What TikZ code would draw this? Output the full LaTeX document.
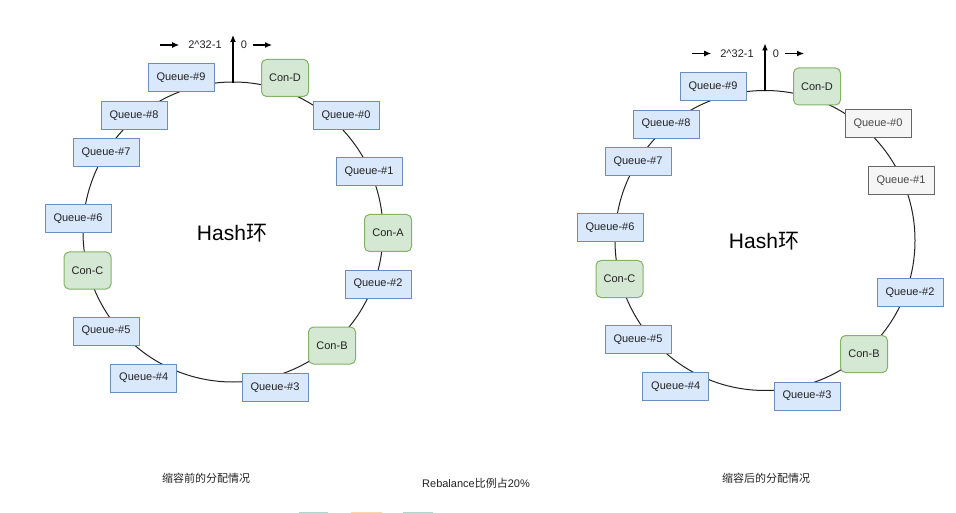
\documentclass[tikz,border=0pt]{standalone}
\usepackage{fontspec}
\setmainfont{Liberation Sans}
\newfontfamily\cjk{Noto Sans CJK SC}
\usetikzlibrary{arrows.meta}

\definecolor{qfill}{HTML}{DAE8FC}
\definecolor{qline}{HTML}{6C8EBF}
\definecolor{cfill}{HTML}{D5E8D4}
\definecolor{cline}{HTML}{82B366}
\definecolor{gfill}{HTML}{F5F5F5}
\definecolor{gline}{HTML}{666666}
\definecolor{ink}{HTML}{222222}
\definecolor{teal}{HTML}{B3D5CF}
\definecolor{peach}{HTML}{FDD5B1}

\tikzset{
  queue/.style={draw=qline, fill=qfill, line width=1pt, minimum width=66pt,
    minimum height=28pt, inner sep=0pt, font=\fontsize{11}{13}\selectfont, text=ink},
  con/.style={queue, draw=cline, fill=cfill, rounded corners=5pt,
    minimum width=47pt, minimum height=37pt},
  gone/.style={queue, draw=gline, fill=gfill, text=gline!70!black},
  ring/.style={line width=1pt, draw=ink},
  pointer/.style={line width=1.2pt, draw=black, -{Latex[length=7pt,width=6pt]}},
  tag/.style={inner sep=0pt, font=\fontsize{11}{13}\selectfont, text=ink},
  hashtext/.style={inner sep=0pt, font=\fontsize{21}{25}\selectfont, text=black},
}

\begin{document}
\begin{tikzpicture}[x=1pt, y=-1pt]

  \useasboundingbox (0,0) rectangle (956,513);

  % before scale-in
  \coordinate (lc) at (233,232);
  \draw[ring] (lc) circle [radius=150pt];
  \node[hashtext] (lhash) at (232,233) {Hash{\cjk 环}};

  \coordinate (ltop) at (233,83);
  \coordinate (lup) at (233,35);
  \coordinate (lin) at (160,45);
  \coordinate (lout) at (272,45);
  \node[tag] (lmax) at (205,45) {2\textasciicircum32-1};
  \node[tag] (lnil) at (244,45) {0};
  \draw[pointer] (ltop) -- (lup);
  \draw[pointer] (lin) -- ([xshift=-9pt]lmax.west);
  \draw[pointer] ([xshift=6pt]lnil.east) -- (lout);

  \foreach \n/\x/\y in {9/181/78, 8/134/115.7, 7/106/153, 6/78/218.7,
                        5/106/331, 4/143.7/378, 3/275/387.5, 2/378/284,
                        1/369/172, 0/346/115.5}
    \node[queue] (lq\n) at (\x,\y) {Queue-\#\n};

  \node[con] (lconD) at (285,78)    {Con-D};
  \node[con] (lconA) at (388,233)   {Con-A};
  \node[con] (lconB) at (332,345.5) {Con-B};
  \node[con] (lconC) at (87.5,270.5) {Con-C};

  % after scale-in
  \begin{scope}[shift={(532,8.5)}]
    \coordinate (rc) at (233,232);
    \draw[ring] (rc) circle [radius=150pt];
    \node[hashtext] (rhash) at (232,233) {Hash{\cjk 环}};

    \coordinate (rtop) at (233,83);
    \coordinate (rup) at (233,35);
    \coordinate (rin) at (160,45);
    \coordinate (rout) at (272,45);
    \node[tag] (rmax) at (205,45) {2\textasciicircum32-1};
    \node[tag] (rnil) at (244,45) {0};
    \draw[pointer] (rtop) -- (rup);
    \draw[pointer] (rin) -- ([xshift=-9pt]rmax.west);
    \draw[pointer] ([xshift=6pt]rnil.east) -- (rout);

    \foreach \n/\x/\y in {9/181/78, 8/134/115.7, 7/106/153, 6/78/218.7,
                          5/106/331, 4/143.7/378, 3/275/387.5, 2/378/284}
      \node[queue] (rq\n) at (\x,\y) {Queue-\#\n};
    \node[gone] (rq1) at (369,172)   {Queue-\#1};
    \node[gone] (rq0) at (346,115.5) {Queue-\#0};

    \node[con] (rconD) at (285,78)    {Con-D};
    \node[con] (rconB) at (332,345.5) {Con-B};
    \node[con] (rconC) at (87.5,270.5) {Con-C};
  \end{scope}

  \node[tag] (lnote) at (206,478) {\cjk 缩容前的分配情况};
  \node[tag] (mnote) at (476,483) {Rebalance{\cjk 比例占}20\%};
  \node[tag] (rnote) at (766,478) {\cjk 缩容后的分配情况};

  \fill[teal]  (299,511.5) rectangle (328,513);
  \fill[peach] (351,511.5) rectangle (382,513);
  \fill[teal]  (403,511.5) rectangle (433,513);

\end{tikzpicture}
\end{document}
